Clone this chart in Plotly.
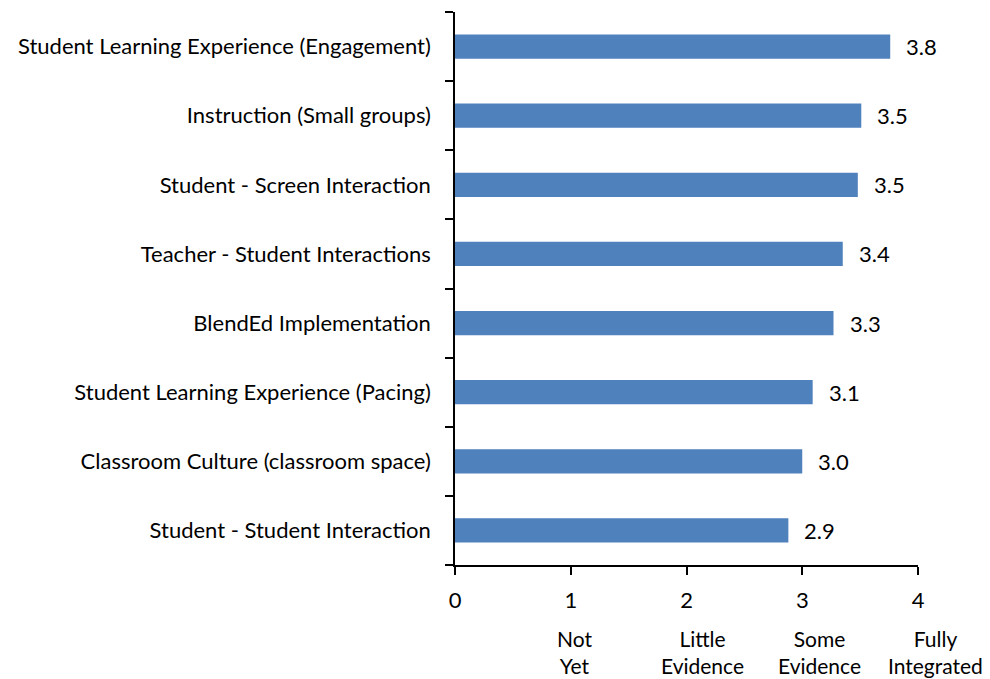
import plotly.graph_objects as go

# Rubric areas, listed bottom to top as drawn on the category axis
areas = [
    "Student - Student Interaction",
    "Classroom Culture (classroom space)",
    "Student Learning Experience (Pacing)",
    "BlendEd Implementation",
    "Teacher - Student Interactions",
    "Student - Screen Interaction",
    "Instruction (Small groups)",
    "Student Learning Experience (Engagement)",
]
mean_scores = [2.88, 3.00, 3.09, 3.27, 3.35, 3.48, 3.51, 3.76]

# Rating scale descriptors shown under the numeric ticks
scale_levels = [1, 2, 3, 4]
scale_names = ["Not<br>Yet", "Little<br>Evidence", "Some<br>Evidence", "Fully<br>Integrated"]

X_MAX = 4
FONT = "Lato"
FS = 22
BAR = "#4F81BD"
# horizontal nudge (in axis units) of each descriptor relative to its tick
DESC_NUDGE = [0.035, 0.14, 0.15, 0.15]

fig = go.Figure()
fig.add_trace(go.Bar(
    x=mean_scores,
    y=areas,
    orientation="h",
    marker=dict(color=BAR, line=dict(width=0)),
    width=0.35,
    hoverinfo="x+y",
))

# value labels just right of each bar
for a, v in zip(areas, mean_scores):
    fig.add_annotation(
        x=v, y=a, xref="x", yref="y",
        text=f"{v:.1f}", showarrow=False,
        xanchor="left", yanchor="middle", xshift=14,
        font=dict(family=FONT, size=FS, color="#000000"),
    )

# scale descriptors below the x-axis (paper coords so the last one isn't clipped)
for lvl, name, nudge in zip(scale_levels, scale_names, DESC_NUDGE):
    fig.add_annotation(
        x=(lvl + nudge) / X_MAX, y=-0.106, xref="paper", yref="paper",
        text=name, showarrow=False,
        xanchor="center", yanchor="top",
        font=dict(family=FONT, size=21, color="#000000"),
    )

fig.update_layout(
    width=990, height=679,
    margin=dict(l=455, r=72, t=12, b=114),
    paper_bgcolor="white", plot_bgcolor="white",
    showlegend=False,
    font=dict(family=FONT, size=FS, color="#000000"),
    xaxis=dict(
        range=[0, X_MAX],
        tickvals=[0, 1, 2, 3, 4],
        showgrid=False, zeroline=False,
        showline=True, linecolor="#000000", linewidth=1.5,
        ticks="outside", ticklen=8, tickwidth=1.5, tickcolor="#000000",
        tickfont=dict(family=FONT, size=FS),
        ticklabelstandoff=7,
    ),
    yaxis=dict(
        type="category",
        categoryorder="array", categoryarray=areas,
        tickson="boundaries",
        showgrid=False, zeroline=False,
        showline=True, linecolor="#000000", linewidth=1.5,
        ticks="outside", ticklen=8, tickwidth=1.5, tickcolor="#000000",
        tickfont=dict(family=FONT, size=FS),
        ticklabelstandoff=18,
    ),
)

fig.write_html("out.html")
